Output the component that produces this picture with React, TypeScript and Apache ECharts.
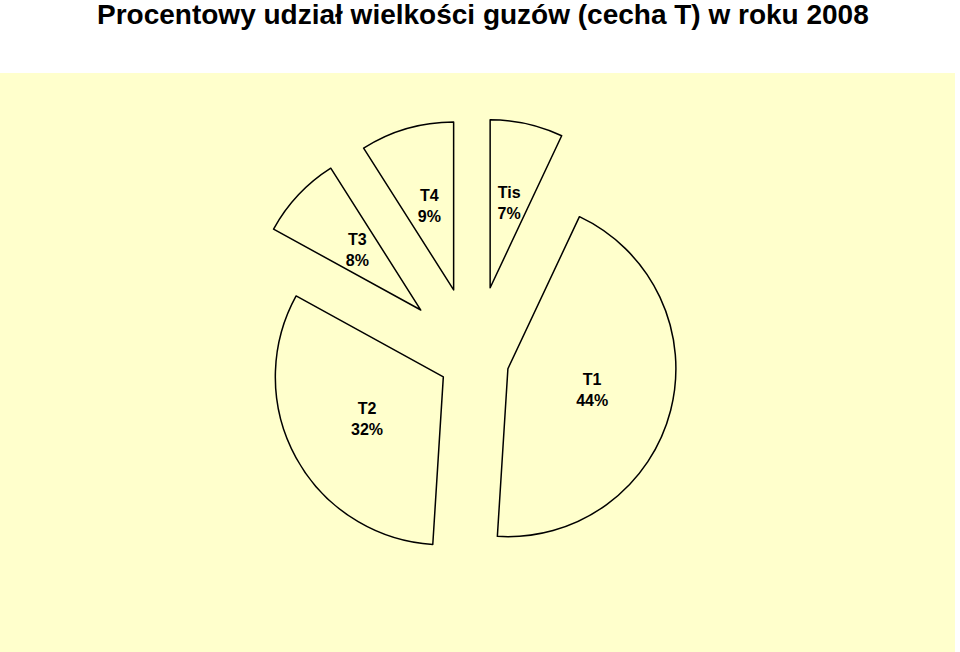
import React, { useEffect, useRef } from "react";
import * as echarts from "echarts";

const categories = ["Tis", "T1", "T2", "T3", "T4"];
const percents = [7, 44, 32, 8, 9];
const titleText = "Procentowy udział wielkości guzów (cecha T) w roku 2008";

// per-slice explosion distance (px)
const explode = [74, 35, 35, 73, 73];

const FONT = 'Arial, "Liberation Sans", sans-serif';
const BG = "#FFFFCC";

export default function App() {
  const ref = useRef<HTMLDivElement>(null);
  useEffect(() => {
    if (!ref.current) return;
    const chart = echarts.init(ref.current, undefined, { renderer: "svg" });
    const series = categories.map((_, idx) => ({
      type: "pie",
      center: [474, 360],
      radius: 168,
      startAngle: 90,
      clockwise: true,
      selectedMode: "multiple",
      selectedOffset: explode[idx],
      silent: true,
      emphasis: { disabled: true },
      labelLine: { show: false },
      data: categories.map((name, j) => ({
        name,
        value: percents[j],
        selected: j === idx,
        itemStyle:
          j === idx
            ? { color: BG, borderColor: "#000", borderWidth: 1.5 }
            : { color: "transparent", borderWidth: 0 },
        label:
          j === idx
            ? {
                show: true,
                position: "inside",
                formatter: "{b}\n{c}%",
                fontFamily: FONT,
                fontSize: 16,
                fontWeight: "bold",
                color: "#000",
                lineHeight: 21,
              }
            : { show: false },
        select: {
          itemStyle:
            j === idx
              ? { color: BG, borderColor: "#000", borderWidth: 1.5 }
              : { color: "transparent", borderWidth: 0 },
        },
      })),
    }));
    chart.setOption({
      animation: false,
      backgroundColor: "#FFFFFF",
      title: {
        text: titleText,
        left: 97,
        top: 0,
        padding: 0,
        textStyle: {
          fontFamily: FONT,
          fontSize: 28,
          fontWeight: "bold",
          color: "#000",
          lineHeight: 28,
        },
      },
      graphic: [
        {
          type: "rect",
          shape: { x: 0, y: 73, width: 955, height: 579 },
          style: { fill: BG },
          z: -10,
          silent: true,
        },
      ],
      series,
    });
    return () => chart.dispose();
  }, []);
  return (
    <div
      ref={ref}
      style={{ position: "absolute", left: 0, top: 0, width: 960, height: 652 }}
    />
  );
}
